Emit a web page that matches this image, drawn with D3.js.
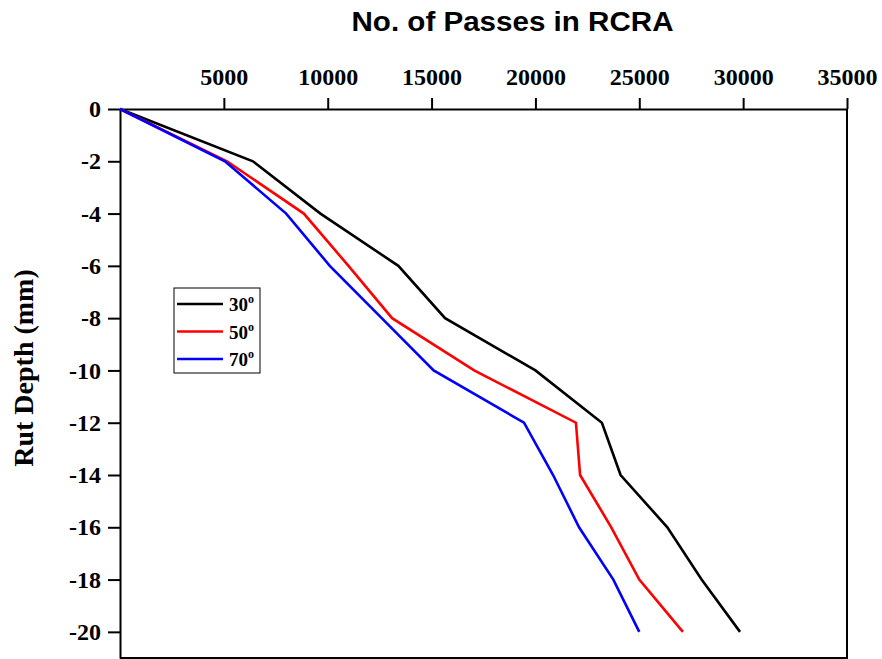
<!DOCTYPE html>
<html>
<head>
<meta charset="utf-8">
<script src="https://cdn.jsdelivr.net/npm/d3@7"></script>
<style>
  body { margin: 0; background: #fff; }
  svg { display: block; }
</style>
</head>
<body>
<svg id="chart" width="882" height="659"></svg>
<script>
// ---- data ----
const depth = [0, -2, -4, -6, -8, -10, -12, -14, -16, -18, -20];
const passes30 = [0, 6400, 9650, 13400, 15650, 20000, 23200, 24100, 26350, 28000, 29850];
const passes50 = [0, 5150, 8850, 11000, 13100, 17050, 21950, 22150, 23650, 25000, 27100];
const passes70 = [0, 5050, 8000, 10100, 12600, 15100, 19450, 20850, 22100, 23750, 25000];
const seriesNames = ["30", "50", "70"];
const seriesColors = ["#000000", "#ff0000", "#0000ff"];
const xTicks = [5000, 10000, 15000, 20000, 25000, 30000, 35000];
const yTicks = [0, -2, -4, -6, -8, -10, -12, -14, -16, -18, -20];
const titleText = "No. of Passes in RCRA";
const yLabelText = "Rut Depth (mm)";

(function () {
const svg = d3.select("#chart");
const mLeft = 120, mRight = 847, mTop = 109, mBottom = 658;

const x = d3.scaleLinear().domain([0, 35000]).range([mLeft, mRight]);
const y = d3.scaleLinear().domain([-21, 0]).range([mBottom, mTop]);

const serifBold = "'Liberation Serif', 'Times New Roman', serif";
const plain = d => String(d);

// frame (right & bottom)
svg.append("path")
  .attr("d", `M${mLeft},${mBottom}H${mRight}V${mTop}`)
  .attr("fill", "none").attr("stroke", "#000").attr("stroke-width", 2);

// top axis
const gx = svg.append("g").attr("transform", `translate(0,${mTop})`)
  .call(d3.axisTop(x).tickValues(xTicks).tickSize(11).tickSizeOuter(0).tickPadding(13)
    .tickFormat(plain));
gx.select(".domain").attr("stroke-width", 2);
gx.selectAll(".tick line").attr("stroke-width", 2);
gx.selectAll(".tick text")
  .attr("font-family", serifBold).attr("font-weight", "bold").attr("font-size", 24)
  .attr("fill", "#000");

// left axis
const gy = svg.append("g").attr("transform", `translate(${mLeft},0)`)
  .call(d3.axisLeft(y).tickValues(yTicks).tickSize(12).tickSizeOuter(0).tickPadding(7)
    .tickFormat(plain));
gy.select(".domain").attr("stroke-width", 2);
gy.selectAll(".tick line").attr("stroke-width", 2);
gy.selectAll(".tick text")
  .attr("font-family", serifBold).attr("font-weight", "bold").attr("font-size", 24)
  .attr("fill", "#000");

// lines
const line = d3.line().x(d => x(d[0])).y(d => y(d[1]));
const allSeries = [passes30, passes50, passes70];
allSeries.forEach((vals, i) => {
  svg.append("path")
    .datum(vals.map((v, j) => [v, depth[j]]))
    .attr("d", line)
    .attr("fill", "none")
    .attr("stroke", seriesColors[i])
    .attr("stroke-width", 2.6)
    .attr("stroke-linejoin", "miter");
});

// title
svg.append("text")
  .attr("x", 512.5).attr("y", 31)
  .attr("text-anchor", "middle")
  .attr("font-family", "'Liberation Sans', Arial, sans-serif")
  .attr("font-weight", "bold").attr("font-size", 27)
  .attr("textLength", 322).attr("lengthAdjust", "spacingAndGlyphs")
  .text(titleText);

// y label
svg.append("text")
  .attr("transform", `translate(33,368) rotate(-90)`)
  .attr("text-anchor", "middle")
  .attr("font-family", serifBold)
  .attr("font-weight", "bold").attr("font-size", 28)
  .text(yLabelText);

// legend
const lg = svg.append("g");
lg.append("rect").attr("x", 174).attr("y", 288).attr("width", 86).attr("height", 85)
  .attr("fill", "#fff").attr("stroke", "#000").attr("stroke-width", 1);
const legY = [304, 331.5, 359];
seriesNames.forEach((n, i) => {
  lg.append("line").attr("x1", 177).attr("x2", 223).attr("y1", legY[i]).attr("y2", legY[i])
    .attr("stroke", seriesColors[i]).attr("stroke-width", 2.6);
  const t = lg.append("text").attr("x", 229).attr("y", legY[i] + 7)
    .attr("font-family", serifBold).attr("font-weight", "bold").attr("font-size", 19)
    .text(n);
  t.append("tspan").attr("dy", -8).attr("font-size", 12).text("o");
});
})();
</script>
</body>
</html>
